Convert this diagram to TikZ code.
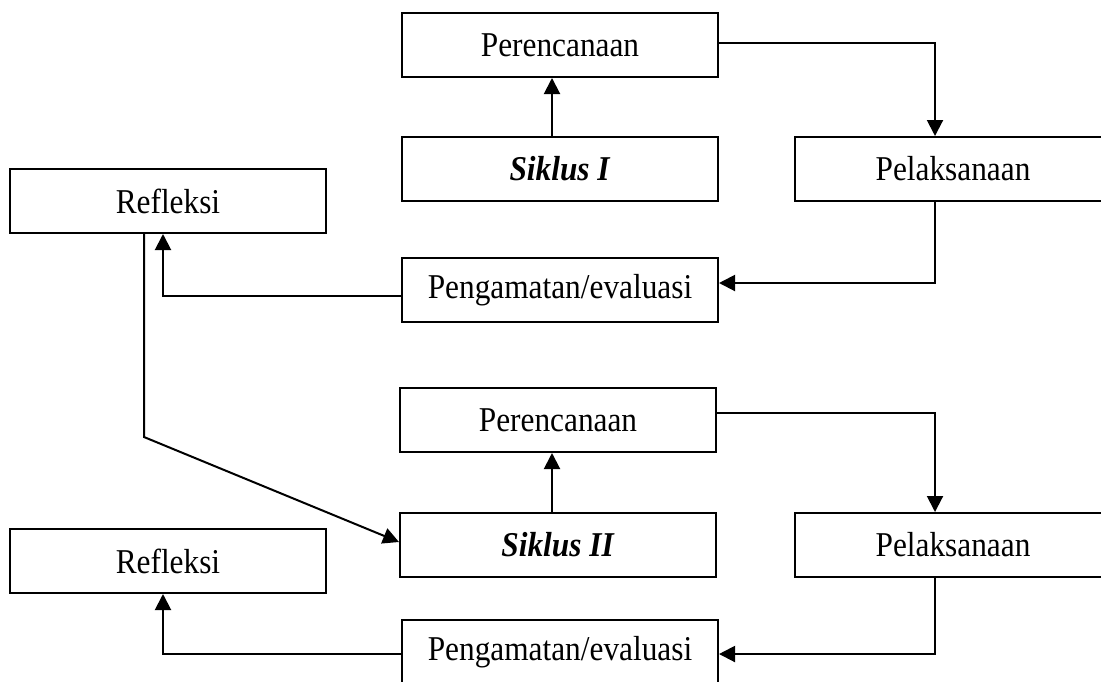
\documentclass[tikz,border=0pt]{standalone}
\usepackage{fontspec}
\setmainfont[FakeStretch=0.9]{Liberation Serif}
\usetikzlibrary{arrows.meta}

\begin{document}
\begin{tikzpicture}[x=0.5pt,y=-0.5pt,line width=1pt,
        box/.style={draw,minimum width=158pt,minimum height=32pt,inner sep=0pt,
            font=\fontsize{17.4}{20}\selectfont},
        >={Triangle[length=8pt,width=8pt]}]
            \useasboundingbox (0,0) rectangle (1101,681);

            % siklus I
            \node[box] (pren1) at (560,45) {Perencanaan};
            \node[box] (sik1) at (560,169) {\textbf{\textit{Siklus I}}};
            \node[box] (pel1) at (953,169) {Pelaksanaan};
            \node[box] (peng1) at (560,290) {Pengamatan/evaluasi};
            \node[box] (ref1) at (168,201) {Refleksi};

            % siklus II
            \node[box] (pren2) at (558,420) {Perencanaan};
            \node[box] (sik2) at (558,545) {\textbf{\textit{Siklus II}}};
            \node[box] (pel2) at (953,545) {Pelaksanaan};
            \node[box] (peng2) at (560,652) {Pengamatan/evaluasi};
            \node[box] (ref2) at (168,561) {Refleksi};

            \coordinate (turn) at (144,437);

            \draw[->] ([xshift=-4pt]sik1.north) to ([xshift=-4pt]pren1.south);
            \draw[->] ([yshift=1pt]pren1.east) -| ([xshift=-9pt]pel1.north);
            \draw[->] ([xshift=-9pt]pel1.south) |- ([yshift=3.5pt]peng1.east);
            \draw[->] ([yshift=-3pt]peng1.west) -| ([xshift=-2.5pt]ref1.south);
            \draw[->] ([xshift=-12pt]ref1.south) -- (turn) -- ([yshift=1.5pt]sik2.west);

            \draw[->] ([xshift=-3pt]sik2.north) to ([xshift=-3pt]pren2.south);
            \draw[->] ([yshift=3.5pt]pren2.east) -| ([xshift=-9pt]pel2.north);
            \draw[->] ([xshift=-9pt]pel2.south) |- ([yshift=-1pt]peng2.east);
            \draw[->] ([yshift=-1pt]peng2.west) -| ([xshift=-2.5pt]ref2.south);
        \end{tikzpicture}
\end{document}
